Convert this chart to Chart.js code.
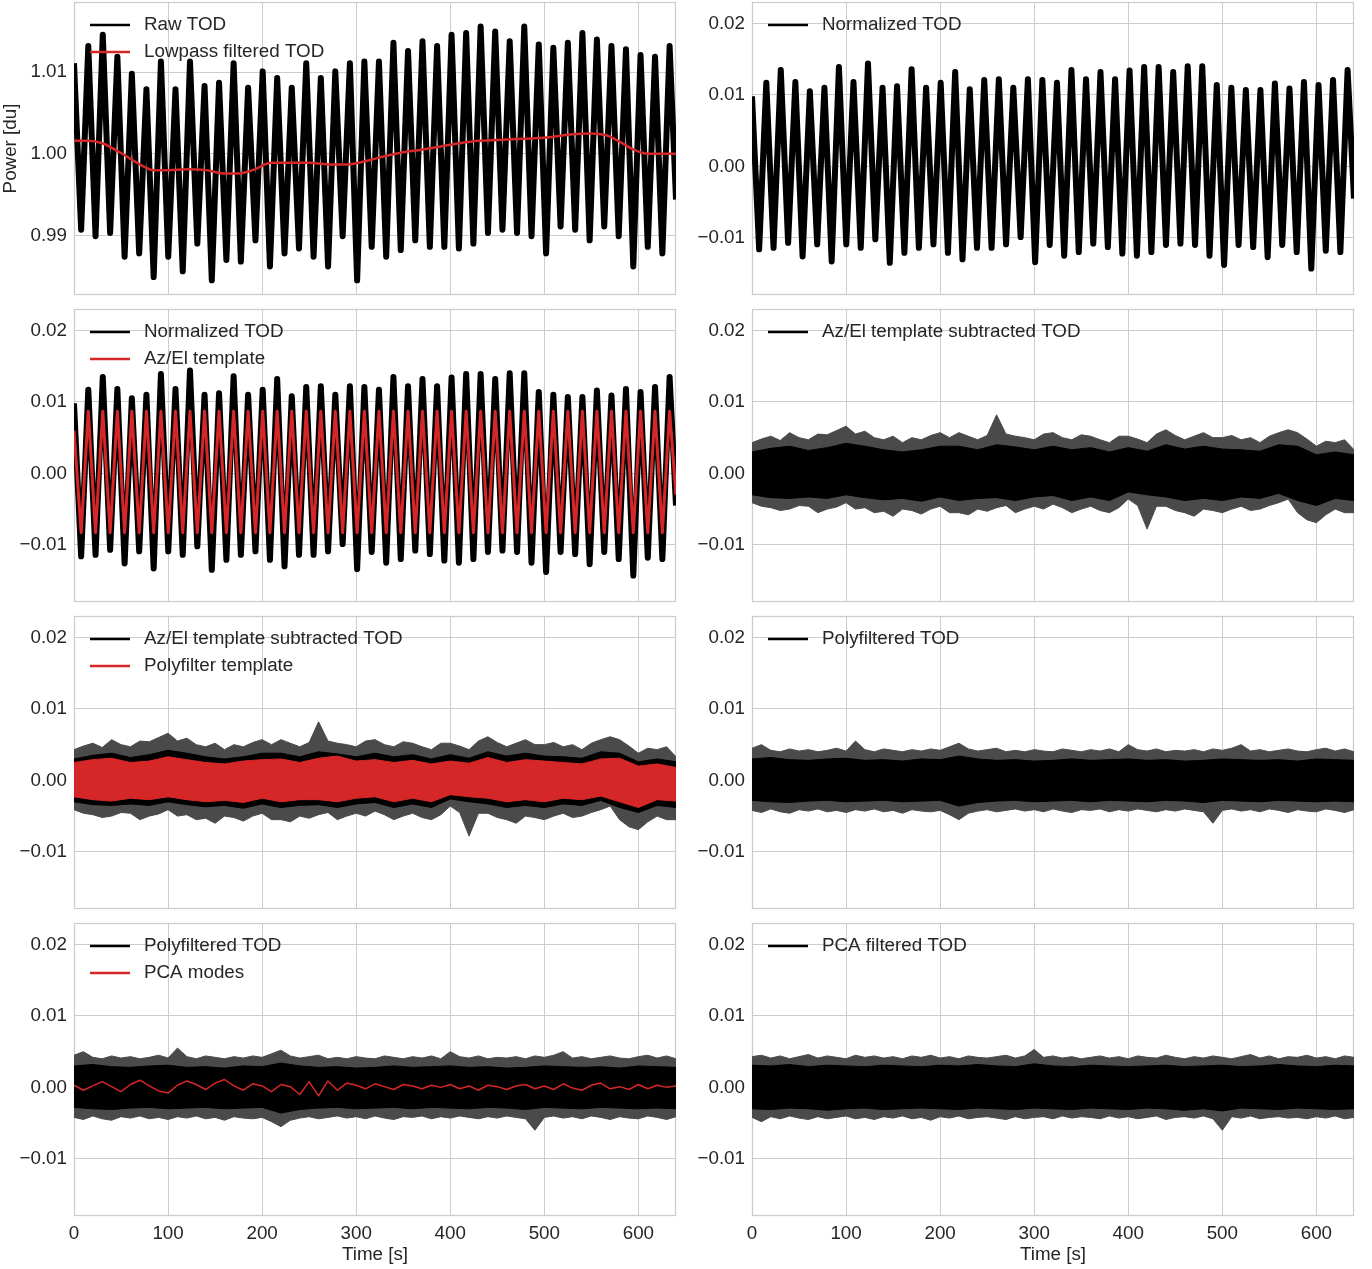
<!DOCTYPE html>
<html>
<head>
<meta charset="utf-8">
<script src="https://cdn.jsdelivr.net/npm/chart.js@4.4.1/dist/chart.umd.min.js"></script>
<style>
  body { margin: 0; background: #fff; width: 1372px; height: 1269px; position: relative; overflow: hidden; }
  canvas { position: absolute; }
</style>
</head>
<body>
<canvas id="c0"></canvas><canvas id="c1"></canvas>
<canvas id="c2"></canvas><canvas id="c3"></canvas>
<canvas id="c4"></canvas><canvas id="c5"></canvas>
<canvas id="c6"></canvas><canvas id="c7"></canvas>
<script>
// scan turnarounds (s): top of each az sweep, bottom of each az sweep
const peakTimes = [0, 15.2, 30.6, 46.1, 61.5, 77.0, 92.4, 107.9, 123.3, 138.8, 154.2, 169.7, 185.1, 200.6, 216.0, 231.5, 246.9, 262.4, 277.8, 293.3, 308.7,
  324.2, 339.6, 355.1, 370.5, 386.0, 401.4, 416.9, 432.3, 447.8, 463.2, 478.7, 494.1, 509.6, 525.0, 540.5, 555.9, 571.4, 586.8, 602.3, 617.7, 633.2];
const troughTimes = [7.6, 22.9, 38.4, 53.8, 69.3, 84.7, 100.2, 115.6, 131.1, 146.5, 162.0, 177.4, 192.9, 208.3, 223.8, 239.2, 254.7, 270.1, 285.6, 301.0,
  316.5, 331.9, 347.4, 362.8, 378.3, 393.7, 409.2, 424.6, 440.1, 455.5, 471.0, 486.4, 501.9, 517.3, 532.8, 548.2, 563.7, 579.1, 594.6, 610.0, 625.5];
const endTime = 640;

// raw TOD [du]
const rawPeaks = [1.0111, 1.0132, 1.0146, 1.0119, 1.0098, 1.0079, 1.0113, 1.0079, 1.0113, 1.0083, 1.0087, 1.0111, 1.0081, 1.0101, 1.0093, 1.0081, 1.0111, 1.0093, 1.0101, 1.0111, 1.0113,
  1.0113, 1.0136, 1.0126, 1.0138, 1.0132, 1.0146, 1.0148, 1.0156, 1.0150, 1.0138, 1.0156, 1.0134, 1.0130, 1.0136, 1.0148, 1.0140, 1.0132, 1.0128, 1.0121, 1.0119, 1.0132];
const rawTroughs = [0.9907, 0.9899, 0.9903, 0.9874, 0.9878, 0.9849, 0.9874, 0.9856, 0.9890, 0.9845, 0.9870, 0.9868, 0.9894, 0.9862, 0.9878, 0.9884, 0.9874, 0.9862, 0.9899, 0.9845,
  0.9886, 0.9874, 0.9882, 0.9894, 0.9886, 0.9886, 0.9884, 0.9890, 0.9903, 0.9907, 0.9903, 0.9899, 0.9878, 0.9911, 0.9907, 0.9894, 0.9911, 0.9899, 0.9862, 0.9886, 0.9878];
const rawEnd = 0.9944;

// lowpass filtered TOD
const lowpassTimes = [0, 15, 30, 50, 70, 85, 100, 120, 140, 160, 175, 190, 210, 230, 250, 270, 290, 314, 330, 350, 370, 390, 410, 430, 450, 470, 490, 510, 530, 550, 565, 580, 595, 610, 625, 640];
const lowpassValues = [1.0016, 1.0016, 1.0013, 1.0001, 0.9987, 0.9980, 0.9980, 0.9981, 0.9980, 0.9976, 0.9976, 0.9980, 0.9989, 0.9989, 0.9989, 0.9987, 0.9987, 0.9992,
  0.9997, 1.0002, 1.0005, 1.0009, 1.0013, 1.0016, 1.0017, 1.0018, 1.0019, 1.0021, 1.0024, 1.0025, 1.0023, 1.0015, 1.0005, 1.0000, 1.0000, 1.0000];

// normalized TOD
const normPeaks = [0.0098, 0.0117, 0.0135, 0.0118, 0.0105, 0.0110, 0.0139, 0.0118, 0.0144, 0.0110, 0.0112, 0.0136, 0.0110, 0.0117, 0.0132, 0.0108, 0.0121, 0.0122, 0.0110, 0.0122, 0.0121,
  0.0117, 0.0135, 0.0122, 0.0132, 0.0122, 0.0134, 0.0139, 0.0139, 0.0132, 0.0140, 0.0140, 0.0114, 0.0110, 0.0107, 0.0107, 0.0116, 0.0109, 0.0118, 0.0114, 0.0121, 0.0135];
const normTroughs = [-0.0116, -0.0114, -0.0107, -0.0126, -0.0109, -0.0133, -0.0109, -0.0114, -0.0102, -0.0135, -0.0121, -0.0114, -0.0109, -0.0121, -0.0130, -0.0114, -0.0114, -0.0109, -0.0099, -0.0134,
  -0.0110, -0.0125, -0.0120, -0.0108, -0.0113, -0.0122, -0.0125, -0.0120, -0.0110, -0.0108, -0.0110, -0.0125, -0.0138, -0.0110, -0.0113, -0.0127, -0.0110, -0.0120, -0.0143, -0.0118, -0.0120];
const normEnd = -0.0045;

// Az/El template
const azelPeaks = [0.0060, 0.0087, 0.0087, 0.0087, 0.0087, 0.0087, 0.0087, 0.0087, 0.0087, 0.0087, 0.0087, 0.0087, 0.0087, 0.0087, 0.0087, 0.0087, 0.0087, 0.0087, 0.0087, 0.0087, 0.0087,
  0.0087, 0.0087, 0.0087, 0.0087, 0.0087, 0.0087, 0.0087, 0.0087, 0.0087, 0.0087, 0.0087, 0.0087, 0.0087, 0.0087, 0.0087, 0.0087, 0.0087, 0.0087, 0.0087, 0.0087, 0.0087];
const azelTroughs = [-0.0083, -0.0083, -0.0083, -0.0083, -0.0083, -0.0083, -0.0083, -0.0083, -0.0083, -0.0083, -0.0083, -0.0083, -0.0083, -0.0083, -0.0083, -0.0083, -0.0083, -0.0083, -0.0083, -0.0083,
  -0.0083, -0.0083, -0.0083, -0.0083, -0.0083, -0.0083, -0.0083, -0.0083, -0.0083, -0.0083, -0.0083, -0.0083, -0.0083, -0.0083, -0.0083, -0.0083, -0.0083, -0.0083, -0.0083, -0.0083, -0.0083];
const azelEnd = -0.0030;

// noise envelopes: spike tips every 10 s, dense core every 20 s
const tipTimes = [0, 10, 20, 30, 40, 50, 60, 70, 80, 90, 100, 110, 120, 130, 140, 150, 160, 170, 180, 190, 200, 210, 220, 230, 240, 250, 260, 270, 280, 290, 300, 310,
  320, 330, 340, 350, 360, 370, 380, 390, 400, 410, 420, 430, 440, 450, 460, 470, 480, 490, 500, 510, 520, 530, 540, 550, 560, 570, 580, 590, 600, 610, 620, 630, 640];
const coreTimes = [0, 20, 40, 60, 80, 100, 120, 140, 160, 180, 200, 220, 240, 260, 280, 300, 320, 340, 360, 380, 400, 420, 440, 460, 480, 500, 520, 540, 560, 580, 600, 620, 640];

// Az/El template subtracted TOD
const azelSubTipHigh = [
  0.0043, 0.0048, 0.0052, 0.0046, 0.0057, 0.0050, 0.0047, 0.0055, 0.0054, 0.0060,
  0.0066, 0.0055, 0.0059, 0.0050, 0.0047, 0.0052, 0.0043, 0.0050, 0.0047, 0.0053,
  0.0057, 0.0050, 0.0057, 0.0052, 0.0047, 0.0053, 0.0082, 0.0055, 0.0052, 0.0050,
  0.0047, 0.0055, 0.0057, 0.0050, 0.0047, 0.0054, 0.0052, 0.0047, 0.0043, 0.0052,
  0.0052, 0.0048, 0.0043, 0.0055, 0.0061, 0.0053, 0.0047, 0.0052, 0.0057, 0.0050,
  0.0050, 0.0053, 0.0047, 0.0050, 0.0043, 0.0052, 0.0057, 0.0061, 0.0057, 0.0048,
  0.0038, 0.0045, 0.0043, 0.0047, 0.0033];
const azelSubTipLow = [
  -0.0041, -0.0046, -0.0048, -0.0052, -0.0050, -0.0045, -0.0046, -0.0055, -0.0050, -0.0047,
  -0.0041, -0.0050, -0.0048, -0.0055, -0.0053, -0.0060, -0.0050, -0.0052, -0.0057, -0.0050,
  -0.0046, -0.0055, -0.0055, -0.0058, -0.0050, -0.0053, -0.0048, -0.0045, -0.0055, -0.0050,
  -0.0046, -0.0050, -0.0043, -0.0048, -0.0055, -0.0050, -0.0046, -0.0052, -0.0055, -0.0048,
  -0.0036, -0.0045, -0.0078, -0.0046, -0.0046, -0.0052, -0.0055, -0.0060, -0.0050, -0.0052,
  -0.0055, -0.0050, -0.0046, -0.0052, -0.0050, -0.0045, -0.0041, -0.0036, -0.0055, -0.0065,
  -0.0069, -0.0058, -0.0050, -0.0055, -0.0055];
const azelSubCoreHigh = [0.0030, 0.0035, 0.0038, 0.0032, 0.0036, 0.0042, 0.0038, 0.0033, 0.0030, 0.0033,
  0.0038, 0.0038, 0.0033, 0.0040, 0.0037, 0.0033, 0.0038, 0.0033, 0.0036, 0.0030,
  0.0036, 0.0031, 0.0040, 0.0034, 0.0038, 0.0034, 0.0033, 0.0031, 0.0040, 0.0038,
  0.0026, 0.0030, 0.0026];
const azelSubCoreLow = [-0.0030, -0.0034, -0.0035, -0.0033, -0.0035, -0.0030, -0.0034, -0.0037, -0.0035, -0.0039,
  -0.0033, -0.0038, -0.0035, -0.0034, -0.0038, -0.0033, -0.0031, -0.0038, -0.0033, -0.0038,
  -0.0026, -0.0030, -0.0033, -0.0038, -0.0035, -0.0038, -0.0033, -0.0035, -0.0028, -0.0038,
  -0.0045, -0.0035, -0.0038];

// Polyfilter template
const polyTplHigh = [0.0025, 0.0029, 0.0031, 0.0025, 0.0027, 0.0033, 0.0029, 0.0025, 0.0023, 0.0027,
  0.0029, 0.0030, 0.0025, 0.0031, 0.0034, 0.0027, 0.0029, 0.0025, 0.0028, 0.0023,
  0.0027, 0.0024, 0.0032, 0.0025, 0.0029, 0.0027, 0.0025, 0.0023, 0.0030, 0.0031,
  0.0020, 0.0023, 0.0018];
const polyTplLow = [-0.0023, -0.0027, -0.0029, -0.0025, -0.0027, -0.0023, -0.0027, -0.0030, -0.0028, -0.0031,
  -0.0025, -0.0030, -0.0027, -0.0027, -0.0030, -0.0025, -0.0023, -0.0030, -0.0025, -0.0030,
  -0.0020, -0.0023, -0.0025, -0.0030, -0.0027, -0.0030, -0.0025, -0.0027, -0.0022, -0.0030,
  -0.0038, -0.0027, -0.0029];

// Polyfiltered TOD
const polyTipHigh = [
  0.0045, 0.0050, 0.0042, 0.0040, 0.0044, 0.0041, 0.0043, 0.0040, 0.0042, 0.0045,
  0.0041, 0.0055, 0.0043, 0.0040, 0.0044, 0.0042, 0.0040, 0.0043, 0.0041, 0.0044,
  0.0042, 0.0047, 0.0052, 0.0044, 0.0041, 0.0043, 0.0045, 0.0040, 0.0042, 0.0040,
  0.0043, 0.0041, 0.0040, 0.0044, 0.0042, 0.0040, 0.0043, 0.0041, 0.0044, 0.0040,
  0.0050, 0.0043, 0.0041, 0.0044, 0.0040, 0.0042, 0.0041, 0.0043, 0.0040, 0.0044,
  0.0042, 0.0045, 0.0050, 0.0041, 0.0043, 0.0040, 0.0042, 0.0044, 0.0041, 0.0040,
  0.0043, 0.0045, 0.0041, 0.0044, 0.0040];
const polyTipLow = [
  -0.0042, -0.0045, -0.0040, -0.0044, -0.0046, -0.0041, -0.0043, -0.0040, -0.0044, -0.0042,
  -0.0045, -0.0041, -0.0043, -0.0040, -0.0044, -0.0042, -0.0046, -0.0041, -0.0043, -0.0044,
  -0.0042, -0.0048, -0.0055, -0.0046, -0.0043, -0.0041, -0.0044, -0.0042, -0.0040, -0.0043,
  -0.0041, -0.0044, -0.0040, -0.0043, -0.0045, -0.0041, -0.0042, -0.0040, -0.0044, -0.0041,
  -0.0043, -0.0040, -0.0042, -0.0044, -0.0041, -0.0043, -0.0040, -0.0042, -0.0044, -0.0060,
  -0.0042, -0.0040, -0.0043, -0.0041, -0.0044, -0.0040, -0.0042, -0.0045, -0.0041, -0.0043,
  -0.0044, -0.0040, -0.0042, -0.0045, -0.0041];
const polyCoreHigh = [0.0030, 0.0032, 0.0029, 0.0028, 0.0030, 0.0031, 0.0028, 0.0029, 0.0027, 0.0030,
  0.0029, 0.0034, 0.0030, 0.0028, 0.0029, 0.0027, 0.0028, 0.0030, 0.0028, 0.0029,
  0.0030, 0.0028, 0.0029, 0.0027, 0.0028, 0.0030, 0.0029, 0.0028, 0.0029, 0.0027,
  0.0030, 0.0029, 0.0028];
const polyCoreLow = [-0.0028, -0.0030, -0.0031, -0.0029, -0.0028, -0.0030, -0.0029, -0.0028, -0.0030, -0.0029,
  -0.0028, -0.0036, -0.0031, -0.0029, -0.0028, -0.0030, -0.0029, -0.0028, -0.0030, -0.0028,
  -0.0029, -0.0030, -0.0028, -0.0029, -0.0031, -0.0028, -0.0029, -0.0030, -0.0028, -0.0029,
  -0.0030, -0.0029, -0.0030];

// PCA modes
const pcaModes = [
  0.0003, -0.0004, 0.0002, 0.0008, 0.0001, -0.0006, 0.0004, 0.0010, 0.0002, -0.0005,
  -0.0008, 0.0003, 0.0009, 0.0004, -0.0003, 0.0006, 0.0011, 0.0002, -0.0004, 0.0005,
  0.0002, -0.0006, 0.0004, 0.0001, -0.0010, 0.0008, -0.0012, 0.0009, -0.0004, 0.0006,
  0.0003, -0.0002, 0.0005, 0.0001, -0.0003, 0.0004, 0.0002, -0.0002, 0.0003, 0.0000,
  0.0004, -0.0002, 0.0002, -0.0004, 0.0003, 0.0001, -0.0003, 0.0002, 0.0004, -0.0002,
  0.0002, -0.0003, 0.0005, -0.0001, -0.0004, 0.0003, 0.0006, -0.0002, 0.0001, -0.0003,
  0.0004, -0.0002, 0.0003, 0.0000, 0.0002];

// PCA filtered TOD
const pcaTipHigh = [
  0.0043, 0.0045, 0.0041, 0.0044, 0.0040, 0.0043, 0.0046, 0.0041, 0.0044, 0.0042,
  0.0040, 0.0045, 0.0042, 0.0044, 0.0041, 0.0043, 0.0040, 0.0044, 0.0042, 0.0045,
  0.0041, 0.0043, 0.0040, 0.0044, 0.0042, 0.0041, 0.0043, 0.0045, 0.0041, 0.0044,
  0.0053, 0.0042, 0.0044, 0.0041, 0.0043, 0.0040, 0.0042, 0.0044, 0.0041, 0.0043,
  0.0040, 0.0044, 0.0042, 0.0041, 0.0045, 0.0042, 0.0040, 0.0043, 0.0041, 0.0044,
  0.0042, 0.0040, 0.0043, 0.0046, 0.0041, 0.0044, 0.0040, 0.0043, 0.0042, 0.0045,
  0.0041, 0.0043, 0.0040, 0.0044, 0.0042];
const pcaTipLow = [
  -0.0042, -0.0048, -0.0041, -0.0044, -0.0040, -0.0043, -0.0045, -0.0041, -0.0044, -0.0042,
  -0.0040, -0.0044, -0.0042, -0.0045, -0.0041, -0.0043, -0.0040, -0.0044, -0.0042, -0.0046,
  -0.0041, -0.0043, -0.0040, -0.0044, -0.0042, -0.0041, -0.0043, -0.0045, -0.0041, -0.0044,
  -0.0042, -0.0041, -0.0044, -0.0040, -0.0043, -0.0041, -0.0042, -0.0044, -0.0040, -0.0043,
  -0.0041, -0.0044, -0.0042, -0.0040, -0.0045, -0.0042, -0.0041, -0.0043, -0.0040, -0.0044,
  -0.0060, -0.0041, -0.0043, -0.0040, -0.0044, -0.0042, -0.0041, -0.0043, -0.0042, -0.0044,
  -0.0041, -0.0043, -0.0040, -0.0044, -0.0042];
const pcaCoreHigh = [0.0031, 0.0030, 0.0032, 0.0029, 0.0031, 0.0030, 0.0029, 0.0031, 0.0030, 0.0029,
  0.0031, 0.0030, 0.0032, 0.0030, 0.0029, 0.0033, 0.0030, 0.0029, 0.0031, 0.0030,
  0.0029, 0.0030, 0.0031, 0.0029, 0.0030, 0.0031, 0.0029, 0.0030, 0.0032, 0.0030,
  0.0029, 0.0031, 0.0030];
const pcaCoreLow = [-0.0030, -0.0031, -0.0029, -0.0030, -0.0032, -0.0030, -0.0029, -0.0031, -0.0030, -0.0029,
  -0.0030, -0.0031, -0.0029, -0.0030, -0.0031, -0.0029, -0.0030, -0.0031, -0.0029, -0.0030,
  -0.0031, -0.0029, -0.0030, -0.0032, -0.0030, -0.0033, -0.0029, -0.0030, -0.0031, -0.0029,
  -0.0030, -0.0031, -0.0030];

const RED = '#d62728';
const GRID = '#cccccc';
const TEXT = '#262626';
const FRINGE = '#4a4a4a';

Chart.defaults.font.family = '"Liberation Sans", Arial, sans-serif';
Chart.defaults.font.size = 18.8;
Chart.defaults.color = TEXT;

function scan(peaks, troughs, end) {
  const pts = [];
  peaks.forEach((v, i) => {
    pts.push({ x: peakTimes[i], y: v });
    if (i < troughs.length) pts.push({ x: troughTimes[i], y: troughs[i] });
  });
  pts.push({ x: endTime, y: end });
  return pts;
}
function pairs(xs, ys) { return xs.map((x, i) => ({ x: x, y: ys[i] })); }

function line(data, color, width, order, smooth) {
  return { data: data, borderColor: color, borderWidth: width, order: order, fill: false,
    borderJoinStyle: 'round', cubicInterpolationMode: smooth ? 'monotone' : 'default' };
}
function band(times, hi, lo, color, order) {
  return [
    { data: pairs(times, hi), borderColor: color, borderWidth: 1, order: order, fill: false },
    { data: pairs(times, lo), borderColor: color, borderWidth: 1, order: order, fill: '-1', backgroundColor: color }
  ];
}
function noisy(tipHi, tipLo, coreHi, coreLo, order) {
  return band(coreTimes, coreHi, coreLo, '#000', order).concat(band(tipTimes, tipHi, tipLo, FRINGE, order + 1));
}

// frame around each axes + inline legend
const framePlugin = {
  id: 'frame',
  beforeDatasetsDraw(chart) {
    const a = chart.chartArea, ctx = chart.ctx;
    ctx.save();
    ctx.strokeStyle = GRID; ctx.lineWidth = 1.25;
    ctx.strokeRect(a.left + 0.5, a.top + 0.5, a.right - a.left - 1, a.bottom - a.top - 1);
    ctx.restore();
  },
  afterDraw(chart, args, opts) {
    const a = chart.chartArea, ctx = chart.ctx;
    ctx.save();
    ctx.font = '18.8px "Liberation Sans", Arial, sans-serif';
    ctx.textBaseline = 'middle';
    (opts.items || []).forEach((it, i) => {
      const y = a.top + 23 + i * 27;
      ctx.strokeStyle = it[1]; ctx.lineWidth = 2.5;
      ctx.beginPath(); ctx.moveTo(a.left + 16, y); ctx.lineTo(a.left + 56, y); ctx.stroke();
      ctx.fillStyle = TEXT;
      ctx.fillText(it[0], a.left + 70, y);
    });
    ctx.restore();
  }
};

const rowTops = [2, 309, 616, 923];
const PLOT_H = 293;

const panels = [
  { row: 0, col: 0, yRange: [0.9827, 1.0186], yTitle: 'Power [du]',
    legend: [['Raw TOD', '#000'], ['Lowpass filtered TOD', RED]],
    datasets: [line(pairs(lowpassTimes, lowpassValues), RED, 2.5, 1, true), line(scan(rawPeaks, rawTroughs, rawEnd), '#000', 6, 2)] },
  { row: 0, col: 1, legend: [['Normalized TOD', '#000']],
    datasets: [line(scan(normPeaks, normTroughs, normEnd), '#000', 6, 2)] },
  { row: 1, col: 0, legend: [['Normalized TOD', '#000'], ['Az/El template', RED]],
    datasets: [line(scan(azelPeaks, azelTroughs, azelEnd), RED, 3, 1), line(scan(normPeaks, normTroughs, normEnd), '#000', 6, 2)] },
  { row: 1, col: 1, legend: [['Az/El template subtracted TOD', '#000']],
    datasets: noisy(azelSubTipHigh, azelSubTipLow, azelSubCoreHigh, azelSubCoreLow, 2) },
  { row: 2, col: 0, legend: [['Az/El template subtracted TOD', '#000'], ['Polyfilter template', RED]],
    datasets: band(coreTimes, polyTplHigh, polyTplLow, RED, 1).concat(noisy(azelSubTipHigh, azelSubTipLow, azelSubCoreHigh, azelSubCoreLow, 2)) },
  { row: 2, col: 1, legend: [['Polyfiltered TOD', '#000']],
    datasets: noisy(polyTipHigh, polyTipLow, polyCoreHigh, polyCoreLow, 2) },
  { row: 3, col: 0, legend: [['Polyfiltered TOD', '#000'], ['PCA modes', RED]],
    datasets: [line(pairs(tipTimes, pcaModes), RED, 1.5, 1)].concat(noisy(polyTipHigh, polyTipLow, polyCoreHigh, polyCoreLow, 2)) },
  { row: 3, col: 1, legend: [['PCA filtered TOD', '#000']],
    datasets: noisy(pcaTipHigh, pcaTipLow, pcaCoreHigh, pcaCoreLow, 2) }
];

function yLabel(v) {
  if (Math.abs(v) < 1e-9) return '0.00';
  return (v < 0 ? '\u2212' : '') + Math.abs(v).toFixed(2);
}

panels.forEach((p, i) => {
  const canvas = document.getElementById('c' + i);
  const bottom = p.row === 3;
  const left = p.col === 0 ? 0 : 678;
  const width = p.col === 0 ? 678 : 694;
  const top = rowTops[p.row] - 2;
  const height = bottom ? 1269 - top : PLOT_H + 4;
  canvas.width = width; canvas.height = height;
  canvas.style.left = left + 'px'; canvas.style.top = top + 'px';
  const yr = p.yRange || [-0.0180, 0.0230];

  new Chart(canvas, {
    type: 'line',
    data: { datasets: p.datasets },
    plugins: [framePlugin],
    options: {
      responsive: false,
      animation: false,
      events: [],
      layout: { padding: { top: 2, bottom: bottom ? 0 : 2, left: 0, right: p.col === 0 ? 2 : 18 } },
      elements: { point: { radius: 0 } },
      plugins: {
        legend: { display: false },
        tooltip: { enabled: false },
        frame: { items: p.legend }
      },
      scales: {
        x: {
          type: 'linear', min: 0, max: 640,
          grid: { color: GRID, lineWidth: 1, drawTicks: false },
          border: { display: false },
          ticks: { display: bottom, stepSize: 100, includeBounds: false, padding: 7, maxRotation: 0 },
          title: { display: bottom, text: 'Time [s]', padding: { top: 0, bottom: 3 } },
          afterFit(s) {
            s.height = bottom ? 1269 - rowTops[3] - PLOT_H : 0;
            s.paddingLeft = 0; s.paddingRight = 0;
          }
        },
        y: {
          type: 'linear', min: yr[0], max: yr[1],
          grid: { color: GRID, lineWidth: 1, drawTicks: false },
          border: { display: false },
          ticks: { stepSize: 0.01, includeBounds: false, padding: 7, callback: yLabel },
          title: { display: !!p.yTitle, text: p.yTitle || '', padding: { top: 0, bottom: 0 } },
          afterFit(s) {
            s.width = 74;
            s.paddingTop = 0; s.paddingBottom = 0;
          }
        }
      }
    }
  });
});
</script>
</body>
</html>
